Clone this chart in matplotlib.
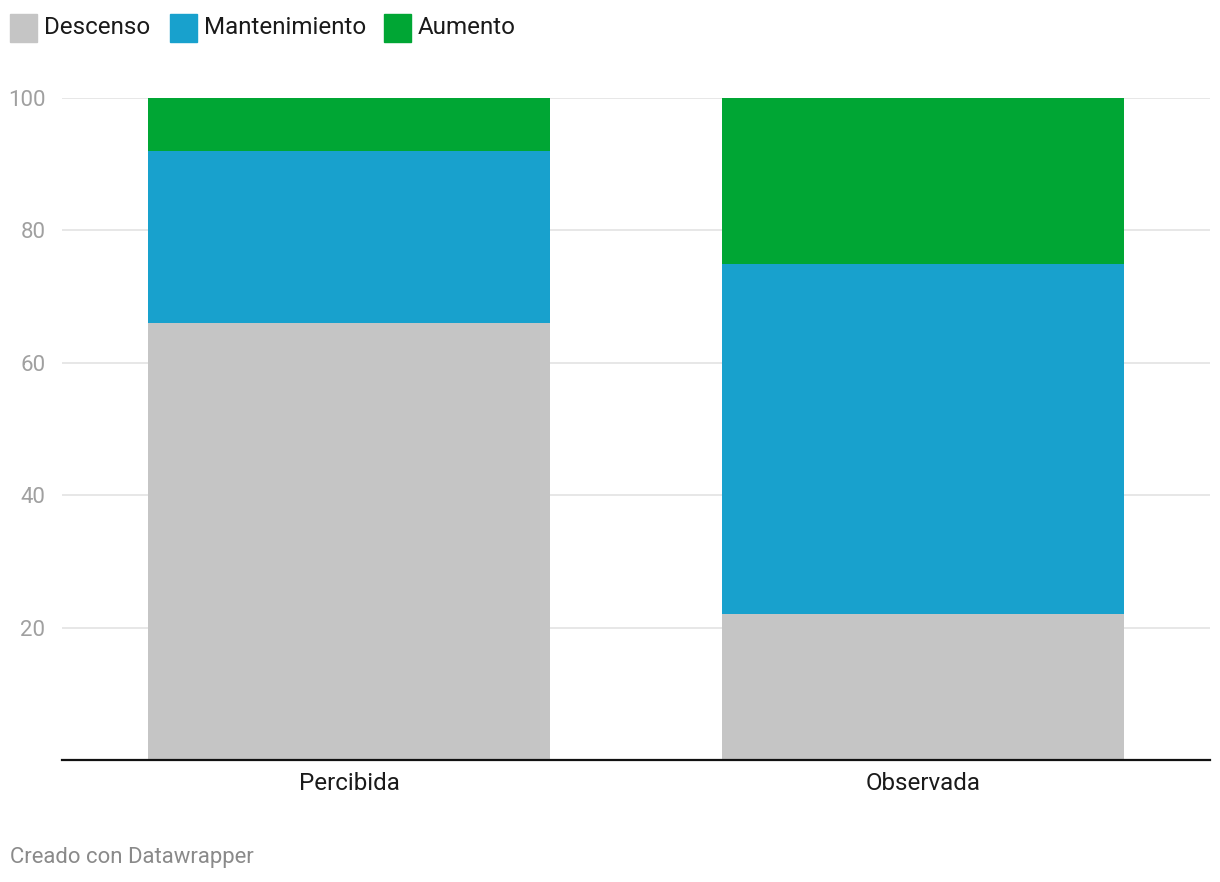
import numpy as np
import matplotlib.pyplot as plt
from matplotlib.patches import Rectangle

plt.rcParams['font.family'] = ['Roboto', 'DejaVu Sans']

# Daten
categorias = ['Percibida', 'Observada']
series = ['Descenso', 'Mantenimiento', 'Aumento']
descenso = np.array([66, 22])
mantenimiento = np.array([26, 53])
aumento = np.array([8, 25])
colores = ['#c5c5c5', '#18a1cd', '#00a634']
yticks = [20, 40, 60, 80, 100]

fig = plt.figure(figsize=(12.2, 8.82), dpi=100)
ax = fig.add_axes([62/1220, 122/882, 1148/1220, 662/882])

x = np.arange(len(categorias))
bottom = np.zeros(len(categorias))
for vals, col in zip([descenso, mantenimiento, aumento], colores):
    ax.bar(x, vals, bottom=bottom, width=0.7, color=col, zorder=2)
    bottom = bottom + vals

ax.set_xlim(-0.5, 1.5)
ax.set_ylim(0, 100)
ax.set_yticks(yticks)
ax.set_yticklabels([str(t) for t in yticks], fontsize=16, color='#a0a0a0')
ax.set_xticks(x)
ax.set_xticklabels(categorias, fontsize=17.4, color='#1a1a1a')
ax.tick_params(axis='y', length=0, pad=12)
ax.tick_params(axis='x', length=0, pad=9)
ax.grid(axis='y', color='#e3e3e3', linewidth=1.2, zorder=0)
for s in ['top', 'right', 'left']:
    ax.spines[s].set_visible(False)
ax.spines['bottom'].set_color('#111111')
ax.spines['bottom'].set_linewidth(1.6)
ax.spines['bottom'].set_zorder(3)

# Legende
xpos = [10, 170, 384]
for xp, nombre, col in zip(xpos, series, colores):
    fig.patches.append(Rectangle((xp/1220, 1 - 42/882), 27/1220, 28/882,
                                 transform=fig.transFigure, color=col))
    fig.text((xp + 34)/1220, 1 - 27/882, nombre, fontsize=17.4, color='#1a1a1a',
             va='center', ha='left')

fig.text(10/1220, 1 - 857/882, 'Creado con Datawrapper', fontsize=15.9,
         color='#8a8a8a', va='center', ha='left')

fig.savefig('out.png', dpi=100)
